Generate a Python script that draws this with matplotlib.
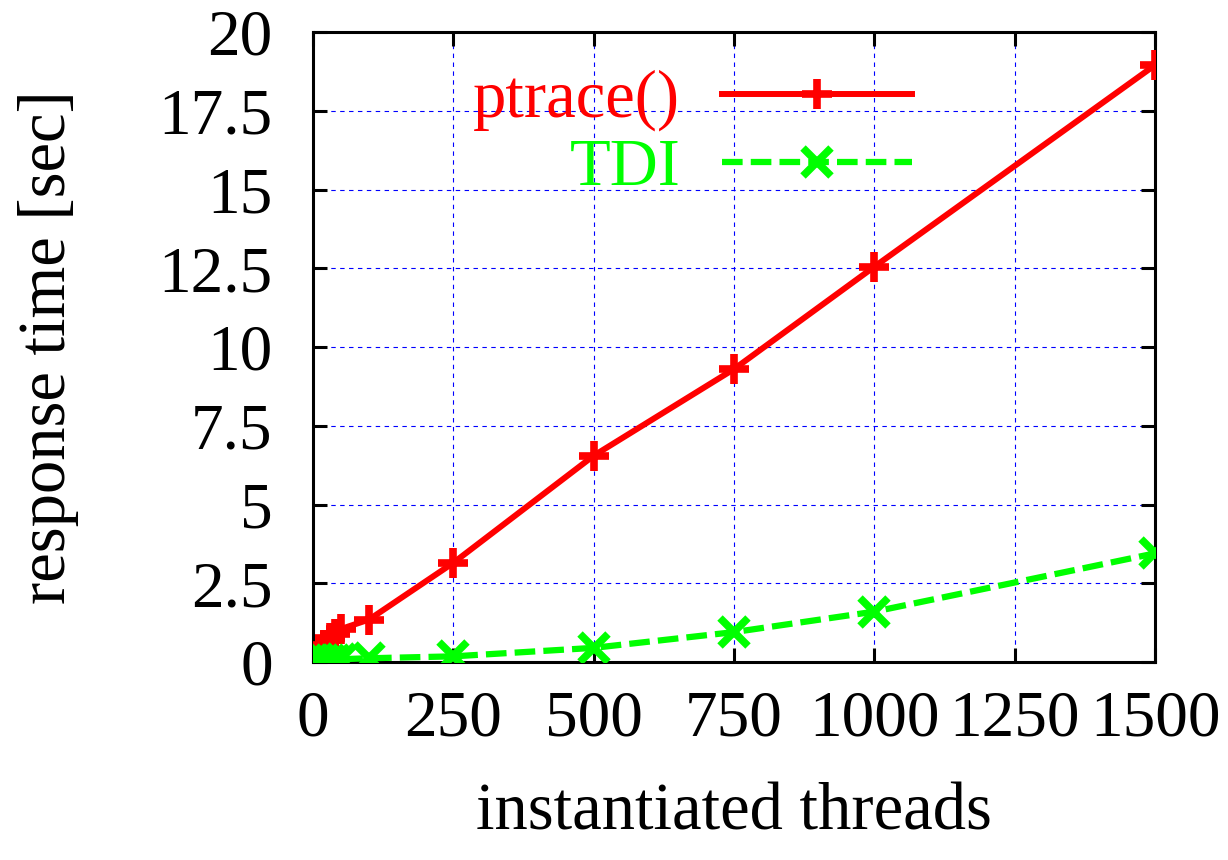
'''Response time vs. instantiated threads: ptrace() vs TDI'''

import matplotlib
matplotlib.use('Agg')
import matplotlib.pyplot as plt

threads      = [1, 10, 20, 30, 40, 50, 100, 250, 500, 750, 1000, 1500]
ptrace_times = [0.05, 0.3, 0.55, 0.75, 0.9, 1.05, 1.35, 3.15, 6.55, 9.3, 12.55, 18.95]
tdi_times    = [0.05, 0.05, 0.06, 0.07, 0.08, 0.09, 0.12, 0.18, 0.45, 0.95, 1.6, 3.45]

x_ticks = [0, 250, 500, 750, 1000, 1250, 1500]
y_ticks = [0, 2.5, 5, 7.5, 10, 12.5, 15, 17.5, 20]
y_tick_labels = ['0', '2.5', '5', '7.5', '10', '12.5', '15', '17.5', '20']

plt.rcParams['font.family'] = ['Liberation Serif', 'DejaVu Serif']

fig = plt.figure(figsize=(12.28, 8.6), dpi=100)
ax  = fig.add_axes([0.2549, 0.2302, 0.6857, 0.7326])

ax.plot(threads, ptrace_times, color='#ff0000', lw=4.3, marker='+',
        markersize=22, markeredgewidth=5.5, label='ptrace()', zorder=3)
ax.plot(threads, tdi_times, color='#00ff00', lw=4.5, marker='x',
        markersize=20, markeredgewidth=5.5, dashes=(3.3, 1.3),
        label='TDI', zorder=3)

ax.set_xlim(0, 1500)
ax.set_ylim(0, 20)
ax.set_xticks(x_ticks)
ax.set_yticks(y_ticks)
ax.set_yticklabels(y_tick_labels)
ax.tick_params(direction='in', length=10, width=2.2, labelsize=47,
               top=True, right=True)
ax.tick_params(axis='x', pad=20)
ax.tick_params(axis='y', pad=29)
for s in ax.spines.values():
      s.set_linewidth(2.2)

ax.grid(True, color='#0000ff', lw=0.8, ls=(0, (4, 4)))
ax.set_axisbelow(True)

ax.set_xlabel('instantiated threads', fontsize=48, labelpad=24)
ax.set_ylabel('response time [sec]', fontsize=48, labelpad=57)

leg = ax.legend(loc='upper right', bbox_to_anchor=(0.711, 0.94),
                frameon=False, markerfirst=False, fontsize=48,
                handlelength=2.85, handletextpad=0.62, labelspacing=0.1,
                borderpad=0, borderaxespad=0)
for t, c in zip(leg.get_texts(), ['#ff0000', '#00ff00']):
      t.set_color(c)

fig.savefig('out.png', dpi=100)
